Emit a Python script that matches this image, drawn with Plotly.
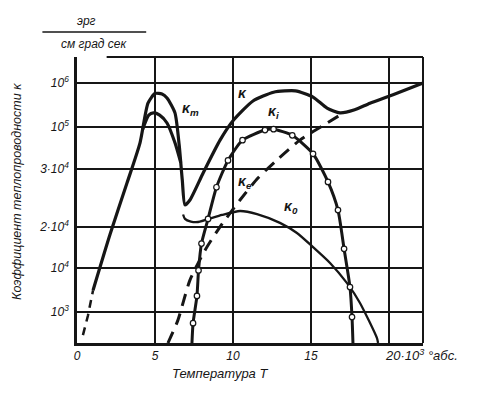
import plotly.graph_objects as go

# ---- data (T in 10^3 K, kappa in chart "level" units of the printed axis) ----
Y_TICK_LEVELS = [0.705, 1.705, 2.64, 3.95, 4.91, 5.91]
Y_TICK_TEXT = ["10<sup>3</sup>", "10<sup>4</sup>", "2·10<sup>4</sup>", "3·10<sup>4</sup>",
               "10<sup>5</sup>", "10<sup>6</sup>"]
X_TICKS = [0, 5, 10, 15, 20]
X_TICK_TEXT = ["0", "5", "10", "15", ""]

kappa_dash_T = [0.38, 0.70, 1.03]
kappa_dash_L = [0.18, 0.62, 1.20]

kappa_T = [1.03, 2.12, 3.21, 4.04, 4.55, 5.0, 5.45, 5.77, 6.28, 6.55, 6.75, 6.92,
           7.24, 8.08, 9.17, 10.0, 11.28, 12.6, 14.0, 15.13, 16.03, 16.86, 17.8,
           18.78, 20.3, 22.18]
kappa_L = [1.20, 2.47, 3.64, 4.55, 5.45, 5.67, 5.66, 5.57, 5.23, 4.5, 3.7, 3.14,
           3.25, 3.86, 4.61, 5.05, 5.50, 5.70, 5.73, 5.59, 5.34, 5.23, 5.30,
           5.45, 5.65, 5.91]

kappa_m_T = [4.2, 4.6, 4.9, 5.3, 5.77, 6.28, 6.65]
kappa_m_L = [4.85, 5.18, 5.23, 5.18, 5.0, 4.55, 4.1]

kappa_i_T = [7.37, 7.44, 7.69, 7.79, 7.98, 8.40, 8.94, 9.68, 10.61, 12.05, 12.6,
             13.8, 15.13, 16.09, 16.73, 17.12, 17.5, 17.63, 17.69]
kappa_i_L = [0.0, 0.45, 1.07, 1.65, 2.26, 2.82, 3.54, 4.15, 4.61, 4.84, 4.86,
             4.72, 4.30, 3.66, 3.02, 2.14, 1.27, 0.59, 0.0]

kappa_e_T = [5.83, 6.47, 7.24, 8.21, 9.17, 10.45, 11.6, 12.82, 14.29, 16.03, 16.86]
kappa_e_L = [0.0, 0.52, 1.43, 2.11, 2.64, 3.25, 3.75, 4.16, 4.61, 5.0, 5.18]

kappa_0_T = [6.8, 6.92, 7.3, 7.76, 9.29, 10.45, 11.54, 13.01, 14.1, 15.13, 16.22,
             17.31, 18.14, 19.23, 19.3]
kappa_0_L = [2.92, 2.82, 2.76, 2.75, 2.91, 3.0, 2.93, 2.73, 2.5, 2.18, 1.82,
             1.36, 0.91, 0.11, 0.0]

LABELS = [("κ<sub>m</sub>", 7.3, 5.32), ("κ", 10.6, 5.68), ("κ<sub>i</sub>", 12.6, 5.25),
          ("κ<sub>e</sub>", 10.8, 3.66), ("κ<sub>0</sub>", 13.7, 3.09)]

INK = "#161616"
FONT = "Liberation Sans"

fig = go.Figure()
fig.add_trace(go.Scatter(x=kappa_dash_T, y=kappa_dash_L, mode="lines",
                         line=dict(color=INK, width=2.5, dash="8px,6px"), hoverinfo="skip"))
fig.add_trace(go.Scatter(x=kappa_T, y=kappa_L, mode="lines",
                         line=dict(color=INK, width=3.2, shape="spline", smoothing=0.6)))
fig.add_trace(go.Scatter(x=kappa_m_T, y=kappa_m_L, mode="lines",
                         line=dict(color=INK, width=3.2, shape="spline", smoothing=0.6)))
fig.add_trace(go.Scatter(x=kappa_e_T, y=kappa_e_L, mode="lines",
                         line=dict(color=INK, width=3, dash="12px,8px", shape="spline", smoothing=0.6)))
fig.add_trace(go.Scatter(x=kappa_0_T, y=kappa_0_L, mode="lines",
                         line=dict(color=INK, width=2.3, shape="spline", smoothing=0.6)))
fig.add_trace(go.Scatter(x=kappa_i_T, y=kappa_i_L, mode="lines",
                         line=dict(color=INK, width=3, shape="spline", smoothing=0.6)))
fig.add_trace(go.Scatter(x=kappa_i_T[1:-1], y=kappa_i_L[1:-1], mode="markers",
                         marker=dict(symbol="circle", size=5.5, color="white",
                                     line=dict(color=INK, width=1.2))))

for txt, t, l in LABELS:
    fig.add_annotation(x=t, y=l, xref="x", yref="y", text="<b><i>" + txt + "</i></b>",
                       xanchor="center", yanchor="middle",
                       showarrow=False, font=dict(family=FONT, size=14, color=INK))

def note(x, y, text, size=12, xanchor="center", angle=0):
    fig.add_annotation(x=x, y=y, xref="paper", yref="paper", text=text, textangle=angle,
                       xanchor=xanchor, yanchor="middle", showarrow=False,
                       font=dict(family=FONT, size=size, color=INK))

# units fraction
note(0.027, 1.126, "<i>эрг</i>")
note(0.05, 1.045, "<i>см град сек</i>")
fig.add_shape(type="line", xref="paper", yref="paper", x0=-0.10, x1=0.20, y0=1.087, y1=1.087,
              line=dict(color=INK, width=1.5))
# axis title (y)
note(-0.172, 0.53, "<i>Коэффициент теплопроводности κ</i>", size=12.5, angle=-90)
# x axis end label and title
note(0.884, -0.042, "<i>20·10<sup>3</sup> °абс.</i>", size=13, xanchor="left")
note(0.413, -0.108, "<i>Температура T</i>", size=13)
# partial top frame line
fig.add_shape(type="line", xref="x", yref="paper", x0=1.9, x1=22.18, y0=1, y1=1,
              line=dict(color=INK, width=2))

# the page body adds an 8px margin, so the figure is 8px smaller on each offset side
fig.update_layout(
    width=479, height=385, showlegend=False,
    margin=dict(l=69, r=64, t=49, b=50, autoexpand=False),
    paper_bgcolor="white", plot_bgcolor="white",
    xaxis=dict(range=[0, 22.18], tickvals=X_TICKS,
               ticktext=["<i>%s</i>" % s if s else "" for s in X_TICK_TEXT],
               showgrid=True, gridcolor=INK, gridwidth=1.6, zeroline=False, automargin=False,
               showline=True, linecolor=INK, linewidth=2.5, mirror=False,
               tickfont=dict(family=FONT, size=12, color=INK), ticks=""),
    yaxis=dict(range=[0, 6.5], tickvals=Y_TICK_LEVELS,
               ticktext=["<i>%s</i>" % s for s in Y_TICK_TEXT],
               showgrid=True, gridcolor=INK, gridwidth=1.6, zeroline=False, automargin=False,
               showline=True, linecolor=INK, linewidth=2.5,
               tickfont=dict(family=FONT, size=12, color=INK), ticks="", ticklabelstandoff=3),
)
# right frame line
fig.add_shape(type="line", xref="paper", yref="paper", x0=1, x1=1, y0=0, y1=1,
              line=dict(color=INK, width=2))

fig.write_html("out.html")
